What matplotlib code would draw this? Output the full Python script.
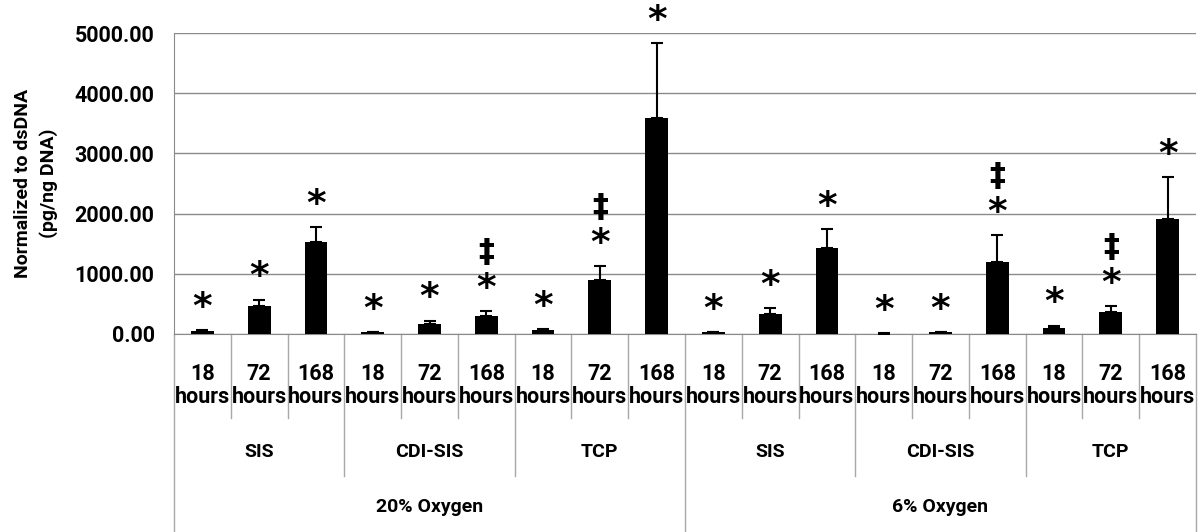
import numpy as np
import matplotlib.pyplot as plt
import matplotlib.transforms as mtransforms
from matplotlib import font_manager as fm

plt.rcParams['font.family'] = ['Roboto', 'DejaVu Sans']
plt.rcParams['font.weight'] = 'bold'


def bold(size):
    return fm.FontProperties(family=['Roboto', 'DejaVu Sans'], weight='bold', size=size)


# Category levels (outer -> inner)
oxygen = ['20% Oxygen', '6% Oxygen']
substrates = ['SIS', 'CDI-SIS', 'TCP']
times = ['18\nhours', '72\nhours', '168\nhours']

# Normalized to dsDNA (pg/ng DNA), mean and upper error, ordered oxygen/substrate/time
means = [45, 468, 1528, 25, 174, 302, 63, 897, 3588,
         25, 340, 1430, 8, 30, 1196, 103, 362, 1910]
errs = [20, 105, 250, 10, 50, 72, 17, 233, 1246,
        5, 84, 314, 5, 8, 449, 38, 106, 698]
# significance marks on each bar
stars = [True] * 18
dagger = [False, False, False, False, False, True, False, True, False,
          False, False, False, False, False, True, False, True, False]

yticks = [0, 1000, 2000, 3000, 4000, 5000]

fig = plt.figure(figsize=(12, 5.32), dpi=100)
ax = fig.add_axes([174 / 1200, 1 - 334 / 532, 1022 / 1200, 301 / 532])

n = len(means)
x = np.arange(n)
ax.bar(x, means, width=0.4, color='black', zorder=3)
ax.errorbar(x, means, yerr=[np.zeros(n), errs], fmt='none', ecolor='black',
            elinewidth=1.5, capsize=4, capthick=1.5, zorder=4)

ax.set_xlim(-0.5, n - 0.5)
ax.set_ylim(0, 5000)
ax.set_yticks(yticks)
ax.set_yticklabels([f'{v:.2f}' for v in yticks], fontproperties=bold(15.5))
ax.tick_params(axis='y', length=0, pad=14)
ax.tick_params(axis='x', length=0, labelbottom=False)
ax.grid(axis='y', color='#8a8a8a', linewidth=1.0, zorder=0)
for side in ['top', 'right']:
    ax.spines[side].set_visible(False)
ax.spines['left'].set_color('#8a8a8a')
ax.spines['bottom'].set_color('#8a8a8a')

ax.set_ylabel('Normalized to dsDNA\n(pg/ng DNA)', fontproperties=bold(14),
              linespacing=1.5, labelpad=12)

# significance symbols above the error bars
for i in range(n):
    top = means[i] + errs[i]
    if stars[i]:
        ax.annotate('*', (x[i], top), xytext=(0, 3), textcoords='offset points',
                    ha='center', va='bottom', fontsize=27, fontweight='bold',
                    family='DejaVu Sans', annotation_clip=False)
    if dagger[i]:
        ax.annotate('\u2021', (x[i], top), xytext=(0, 31), textcoords='offset points',
                    ha='center', va='bottom', fontsize=23, fontweight='bold',
                    family='DejaVu Sans', annotation_clip=False)

# multi-level category axis
trans = mtransforms.blended_transform_factory(ax.transData, ax.transAxes)
sep_color = '#a8a8a8'
lvl1, lvl2, lvl3 = -0.279, -0.472, -0.66
for b in range(n + 1):
    xb = b - 0.5
    if b % 9 == 0:
        y_end = lvl3
    elif b % 3 == 0:
        y_end = lvl2
    else:
        y_end = lvl1
    ax.plot([xb, xb], [0, y_end], transform=trans, color=sep_color,
            linewidth=1.0, clip_on=False)

k = 0
for oi, ox in enumerate(oxygen):
    for si, sub in enumerate(substrates):
        for ti, t in enumerate(times):
            ax.text(k, -0.17, t, transform=trans, ha='center', va='center',
                    fontproperties=bold(15.5), linespacing=1.05)
            k += 1
        ax.text(oi * 9 + si * 3 + 1, -0.392, sub, transform=trans, ha='center',
                va='center', fontproperties=bold(14))
    ax.text(oi * 9 + 4, -0.575, ox, transform=trans, ha='center', va='center',
            fontproperties=bold(14))

fig.savefig('out.png', dpi=100)
